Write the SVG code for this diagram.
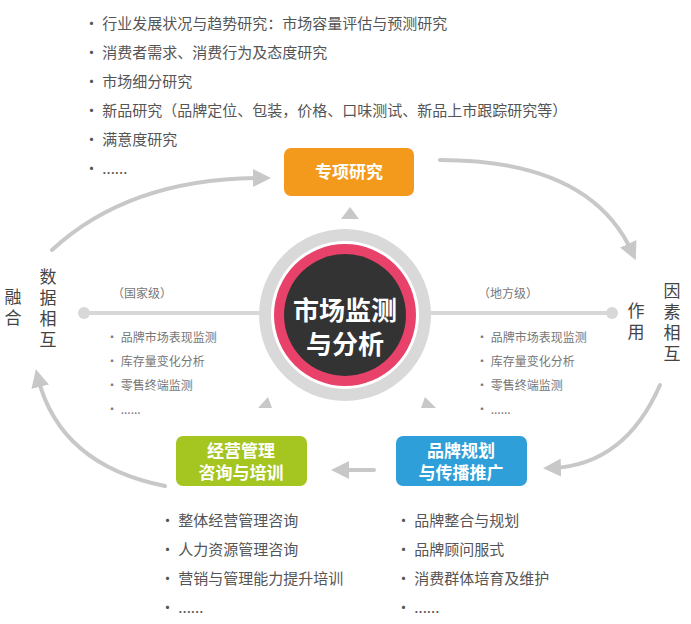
<svg xmlns="http://www.w3.org/2000/svg" width="691" height="624" viewBox="0 0 691 624">
<style>
.t{font-family:"Noto Sans CJK SC","Liberation Sans",sans-serif;fill:#555;font-size:15px}
.s{font-family:"Noto Sans CJK SC","Liberation Sans",sans-serif;fill:#777;font-size:12px}
.v{font-family:"Noto Sans CJK SC",sans-serif;fill:#444;font-size:17px;writing-mode:vertical-rl;letter-spacing:4px}
.b{font-family:"Noto Sans CJK SC",sans-serif;fill:#fff;font-size:17px;font-weight:bold;text-anchor:middle}
.arc{fill:none;stroke:#c8c8c8;stroke-width:4;stroke-linecap:round}
.tri{fill:#c8c8c8}
</style>
<defs>
<marker id="ah" viewBox="0 0 10 10" refX="5" refY="5" markerWidth="4.5" markerHeight="4.5" orient="auto" markerUnits="strokeWidth">
<path d="M0,0L10,5L0,10Z" fill="#c8c8c8"/></marker>
</defs>
<rect width="691" height="624" fill="#fff"/>
<g id="connectors">
<path class="arc" d="M52,250 Q130,178 262,178" marker-end="url(#ah)"/>
<path class="arc" d="M440,160 Q590,160 632,252" marker-end="url(#ah)"/>
<path class="arc" d="M660,385 Q625,465 552,468" marker-end="url(#ah)"/>
<path class="arc" d="M165,486 Q60,465 38,378" marker-end="url(#ah)"/>
<path class="arc" d="M374,470 L340,470" marker-end="url(#ah)"/>
<line x1="84" y1="313" x2="612" y2="313" stroke="#d8d8d8" stroke-width="4"/>
<circle cx="84" cy="313" r="6" fill="#d8d8d8"/>
<circle cx="612" cy="313" r="6" fill="#d8d8d8"/>
<path class="tri" d="M350,207 L341,219 L359,219Z"/>
<path class="tri" d="M268,397 L258,408 L272,408Z"/>
<path class="tri" d="M425,397 L421,408 L436,408Z"/>
</g>
<g id="center">
<circle cx="345" cy="315" r="86" fill="#d9d9d9"/>
<circle cx="345" cy="315" r="74" fill="#fff"/>
<circle cx="345" cy="315" r="71" fill="#e8416a"/>
<circle cx="345" cy="315" r="61" fill="#333"/>
<text class="b" x="345" y="320" style="font-size:26px">市场监测</text>
<text class="b" x="345" y="354" style="font-size:26px">与分析</text>
</g>
<g id="special">
<rect x="284" y="148" width="130" height="48" rx="7" fill="#f39a1d"/>
<text class="b" x="349" y="178">专项研究</text>
</g>
<g id="manage">
<rect x="176" y="436" width="131" height="50" rx="7" fill="#a5c520"/>
<text class="b" x="241" y="457">经营管理</text>
<text class="b" x="241" y="479">咨询与培训</text>
</g>
<g id="brand">
<rect x="396" y="436" width="131" height="50" rx="7" fill="#2e9fd8"/>
<text class="b" x="461" y="457">品牌规划</text>
<text class="b" x="461" y="479">与传播推广</text>
</g>
<g id="toplist" class="t">
<text x="84" y="29">• 行业发展状况与趋势研究：市场容量评估与预测研究</text>
<text x="84" y="58">• 消费者需求、消费行为及态度研究</text>
<text x="84" y="87">• 市场细分研究</text>
<text x="84" y="116">• 新品研究（品牌定位、包装，价格、口味测试、新品上市跟踪研究等）</text>
<text x="84" y="145">• 满意度研究</text>
<text x="84" y="174">• ......</text>
</g>
<g id="national" class="s">
<text x="112" y="298">（国家级）</text>
<text x="106" y="342">• 品牌市场表现监测</text>
<text x="106" y="366">• 库存量变化分析</text>
<text x="106" y="390">• 零售终端监测</text>
<text x="106" y="414">• ......</text>
</g>
<g id="local" class="s">
<text x="478" y="298">（地方级）</text>
<text x="476" y="342">• 品牌市场表现监测</text>
<text x="476" y="366">• 库存量变化分析</text>
<text x="476" y="390">• 零售终端监测</text>
<text x="476" y="414">• ......</text>
</g>
<g id="managelist" class="t">
<text x="160" y="526">• 整体经营管理咨询</text>
<text x="160" y="555">• 人力资源管理咨询</text>
<text x="160" y="584">• 营销与管理能力提升培训</text>
<text x="160" y="613">• ......</text>
</g>
<g id="brandlist" class="t">
<text x="396" y="526">• 品牌整合与规划</text>
<text x="396" y="555">• 品牌顾问服式</text>
<text x="396" y="584">• 消费群体培育及维护</text>
<text x="396" y="613">• ......</text>
</g>
<g id="leftlabel" class="v">
<text x="48" y="268">数据相互</text>
<text x="13" y="288">融合</text>
</g>
<g id="rightlabel" class="v">
<text x="636" y="302">作用</text>
<text x="672" y="282">因素相互</text>
</g>
</svg>
